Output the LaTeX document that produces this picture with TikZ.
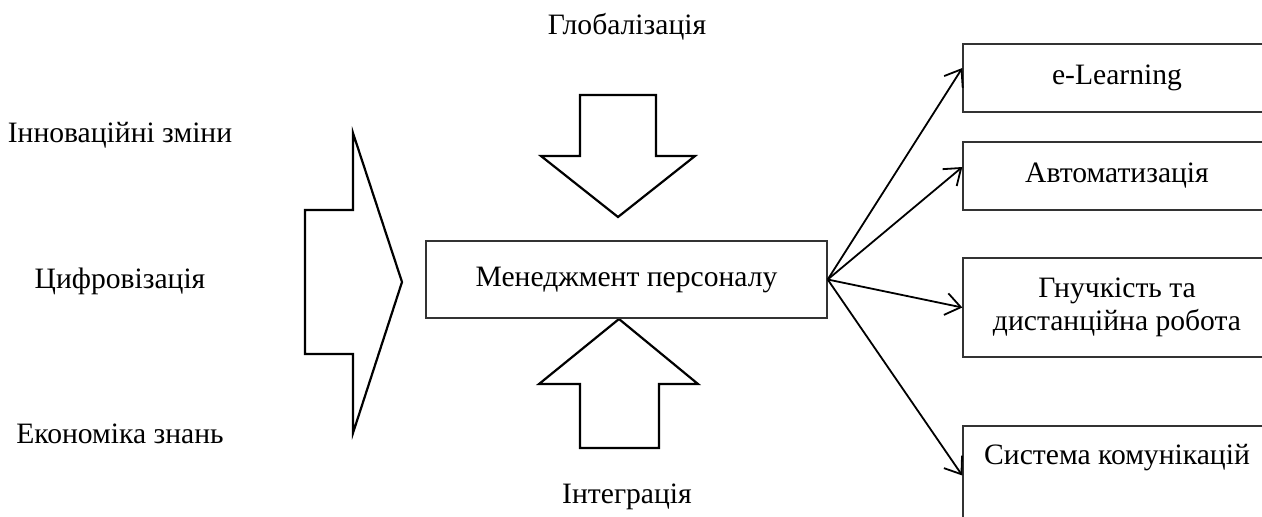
\documentclass[tikz,border=0pt]{standalone}
\usepackage{fontspec}
\setmainfont{Liberation Serif}
\newfontfamily\timesfont{Liberation Serif}
\usetikzlibrary{arrows.meta, positioning}

\begin{document}
\begin{tikzpicture}[x=0.5pt, y=-0.5pt,
    every node/.style={font=\timesfont\fontsize{14.8}{16.5}\selectfont},
    box/.style={draw=black!80, line width=0.7pt, align=center, inner sep=0pt},
    factor/.style={align=center},
    bigarrow/.style={draw, line width=1.1pt, line join=miter},
    link/.style={-{Straight Barb[length=7.5pt, width=11pt]}, line width=0.9pt}]
    \useasboundingbox (0,0) rectangle (1262,516);
    % factors
    \node[factor] (glob) at (627,27) {Глобалізація};
    \node[factor] (integr) at (627,497) {Інтеграція};
    \node[factor] (innov) at (120,135) {Інноваційні зміни};
    \node[factor] (tsyfr) at (120,281) {Цифровізація};
    \node[factor] (ekon) at (120,434) {Економіка знань};
    % block arrows
    \draw[bigarrow] (305,210) -- (353,210) -- (353,133) -- (402,282) -- (353,433) -- (353,354) -- (305,354) -- cycle;
    \draw[bigarrow] (580,95) -- (656,95) -- (656,156) -- (695,156) -- (618,217) -- (541,156) -- (580,156) -- cycle;
    \draw[bigarrow] (619,319) -- (698,384) -- (659,384) -- (659,448) -- (580,448) -- (580,384) -- (539,384) -- cycle;
    % centre
    \node[box, minimum width=200.5pt, minimum height=38.5pt] (menedzh) at (626.5,279.5) {Менеджмент персоналу};
    % results
    \node[box, minimum width=154pt, minimum height=34pt] (elearn) at (1117,78) {e-Learning};
    \node[box, minimum width=154pt, minimum height=34pt] (avtom) at (1117,176) {Автоматизація};
    \node[box, minimum width=154pt, minimum height=49.5pt] (hnuch) at (1117,307.5) {Гнучкість та\\дистанційна робота};
    \node[box, minimum width=154pt, minimum height=49.5pt] (komun) at (1117,475.5) {Система комунікацій\\ \strut};
    \draw[link] (menedzh.east) -- ([yshift=5pt]elearn.west);
    \draw[link] (menedzh.east) -- ([yshift=4.5pt]avtom.west);
    \draw[link] (menedzh.east) -- (hnuch.west);
    \draw[link] (menedzh.east) -- (komun.west);
\end{tikzpicture}
\end{document}
